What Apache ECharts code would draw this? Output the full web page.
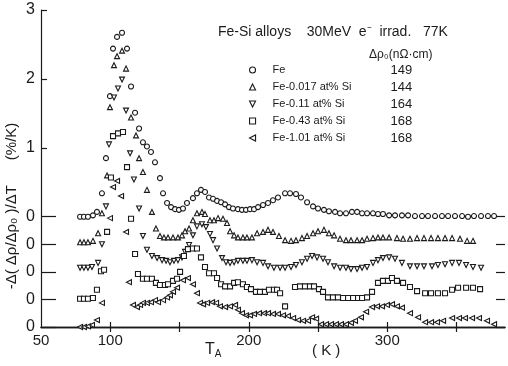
<!DOCTYPE html>
<html>
<head>
<meta charset="utf-8">
<script src="https://cdn.jsdelivr.net/npm/echarts@6/dist/echarts.min.js"></script>
<style>
  html, body { margin: 0; padding: 0; background: #fff; }
  #chart { width: 508px; height: 366px; }
</style>
</head>
<body>
<div id="chart"></div>
<script>
// alloys and their Δρ0 (nΩ·cm)
const alloyNames = ["Fe", "Fe-0.017 at% Si", "Fe-0.11 at% Si", "Fe-0.43 at% Si", "Fe-1.01 at% Si"]
const deltaRho0 = [149, 144, 164, 168, 168]
// each curve is shifted up by this much (units of %/K)
const curveOffsets = [1.6, 1.2, 0.8, 0.4, 0]

// [T_A (K), -Δ(Δρ/Δρ0)/ΔT (%/K)]
const fe = [[78.2,0.00],[81.0,0.00],[83.9,0.00],[87.5,0.02],[90.4,0.07],[94.0,0.34],[96.9,0.85],[99.8,1.75],[102.0,2.44],[104.9,2.61],[108.5,2.67],[112.1,2.44],[115.0,1.89],[117.9,1.51],[120.8,1.28],[123.6,1.08],[126.5,1.02],[129.4,0.94],[132.3,0.79],[135.9,0.56],[138.1,0.34],[141.0,0.20],[143.9,0.14],[146.8,0.11],[149.6,0.10],[152.5,0.12],[155.4,0.20],[159.7,0.27],[162.6,0.34],[165.5,0.39],[168.4,0.36],[171.3,0.28],[174.2,0.26],[177.1,0.23],[180.0,0.21],[182.9,0.18],[185.7,0.14],[188.6,0.12],[192.2,0.11],[195.1,0.10],[198.0,0.10],[200.9,0.11],[203.8,0.11],[206.7,0.14],[210.3,0.17],[213.9,0.20],[217.5,0.24],[221.1,0.28],[226.2,0.34],[229.8,0.34],[234.1,0.33],[237.7,0.28],[242.1,0.21],[246.4,0.15],[250.0,0.12],[254.3,0.10],[257.9,0.08],[262.3,0.07],[265.9,0.05],[270.2,0.05],[274.5,0.07],[278.2,0.07],[281.8,0.05],[285.4,0.05],[289.7,0.05],[293.3,0.04],[296.9,0.04],[301.3,0.02],[305.6,0.02],[310.6,0.02],[315.0,0.02],[320.0,0.01],[325.1,0.01],[329.4,0.01],[334.5,0.01],[339.5,0.01],[343.9,0.01],[348.9,0.01],[354.0,0.01],[358.3,0.00],[362.6,0.01],[367.7,0.01],[372.7,0.01],[377.1,0.01]]

const si0017 = [[78.2,0.03],[81.0,0.03],[83.9,0.03],[87.5,0.05],[91.2,0.16],[94.0,0.45],[97.7,1.00],[99.8,1.99],[102.7,2.60],[104.9,2.73],[108.5,2.81],[111.4,2.55],[115.0,1.84],[118.6,1.58],[120.8,1.25],[123.6,1.05],[126.5,0.79],[130.1,0.47],[133.0,0.23],[135.9,0.12],[138.8,0.10],[141.7,0.10],[145.3,0.10],[148.9,0.10],[151.8,0.13],[154.0,0.19],[156.9,0.23],[159.7,0.35],[162.6,0.45],[166.2,0.47],[168.4,0.44],[172.0,0.35],[174.9,0.35],[177.8,0.38],[181.4,0.37],[184.3,0.31],[186.5,0.19],[189.4,0.13],[192.2,0.10],[195.8,0.10],[198.7,0.10],[202.3,0.10],[206.0,0.16],[210.3,0.18],[213.9,0.21],[217.5,0.18],[221.8,0.12],[226.2,0.06],[230.5,0.05],[234.1,0.06],[238.4,0.09],[242.1,0.12],[246.4,0.16],[250.0,0.19],[254.3,0.21],[257.9,0.16],[261.6,0.13],[265.9,0.08],[270.2,0.06],[273.8,0.06],[278.2,0.06],[281.8,0.06],[285.4,0.08],[289.7,0.09],[293.3,0.10],[296.9,0.10],[301.3,0.10],[307.0,0.09],[311.4,0.08],[316.4,0.08],[321.5,0.09],[326.5,0.09],[331.6,0.09],[336.6,0.09],[341.7,0.09],[346.8,0.09],[352.5,0.08],[357.6,0.05],[361.9,0.05]]

const si011 = [[78.2,0.06],[81.0,0.06],[83.9,0.06],[86.8,0.07],[91.2,0.13],[94.0,0.40],[96.9,0.95],[99.1,1.85],[102.7,2.53],[105.6,2.66],[108.5,2.79],[111.4,2.34],[114.3,1.72],[117.1,1.34],[120.8,0.92],[123.6,0.52],[126.5,0.32],[130.1,0.23],[133.8,0.20],[137.4,0.17],[140.3,0.16],[143.1,0.14],[146.0,0.16],[148.9,0.17],[151.8,0.21],[154.0,0.29],[156.9,0.39],[159.7,0.53],[162.6,0.66],[166.2,0.69],[169.1,0.65],[172.0,0.55],[174.2,0.46],[177.1,0.34],[180.7,0.20],[183.6,0.14],[186.5,0.13],[189.4,0.14],[192.2,0.16],[195.8,0.16],[198.7,0.16],[202.3,0.17],[206.0,0.14],[210.3,0.13],[213.9,0.08],[218.2,0.06],[222.6,0.06],[226.2,0.06],[230.5,0.07],[234.1,0.10],[238.4,0.14],[242.1,0.19],[245.7,0.23],[249.3,0.21],[253.6,0.19],[257.2,0.14],[261.6,0.08],[265.9,0.06],[270.2,0.06],[273.8,0.04],[278.2,0.04],[281.8,0.06],[285.4,0.07],[289.7,0.13],[293.3,0.17],[296.9,0.20],[301.3,0.21],[305.6,0.19],[310.6,0.13],[316.4,0.08],[321.5,0.08],[326.5,0.08],[332.3,0.08],[336.6,0.10],[341.7,0.11],[346.8,0.13],[351.8,0.13],[356.9,0.10],[361.9,0.07],[367.7,0.06]]

const si043 = [[78.2,0.01],[81.0,0.01],[83.9,0.01],[87.5,0.02],[90.4,0.14],[93.3,0.41],[95.5,0.43],[97.7,0.98],[100.5,1.77],[102.0,2.37],[105.6,2.41],[109.2,2.43],[112.1,1.92],[115.0,1.17],[117.9,0.66],[120.0,0.37],[123.6,0.30],[126.5,0.30],[130.1,0.30],[133.0,0.24],[135.9,0.21],[139.5,0.21],[141.7,0.22],[145.3,0.27],[148.2,0.30],[150.4,0.40],[153.2,0.63],[156.1,0.73],[159.7,0.74],[162.6,0.74],[165.5,0.61],[168.4,0.47],[171.3,0.38],[174.9,0.38],[177.1,0.31],[180.0,0.22],[182.9,0.19],[186.5,0.19],[189.4,0.24],[192.2,0.25],[195.8,0.22],[198.7,0.18],[201.6,0.15],[205.2,0.11],[208.1,0.11],[211.7,0.11],[214.6,0.14],[218.2,0.14],[220.4,0.14],[222.6,0.09],[226.2,-0.10],[233.4,0.18],[237.0,0.19],[240.6,0.19],[244.2,0.19],[247.1,0.19],[250.7,0.15],[253.6,0.11],[257.2,0.03],[260.8,0.03],[264.4,0.03],[268.1,0.02],[271.7,0.02],[275.3,0.02],[278.9,0.02],[281.8,0.02],[285.4,0.03],[289.0,0.11],[293.3,0.24],[296.9,0.27],[300.5,0.27],[303.4,0.31],[307.0,0.27],[311.4,0.24],[316.4,0.18],[321.5,0.12],[327.3,0.09],[331.6,0.09],[336.6,0.09],[341.7,0.09],[346.8,0.14],[351.1,0.17],[356.9,0.17],[361.9,0.17],[367.0,0.15]]

const si101 = [[78.2,0.00],[81.0,0.00],[83.9,0.01],[86.8,0.03],[90.4,0.10],[94.0,0.35],[99.8,1.58],[102.0,2.03],[104.9,2.12],[107.8,1.90],[111.4,1.38],[113.5,0.65],[116.4,0.32],[119.3,0.29],[121.5,0.32],[123.6,0.35],[126.5,0.35],[129.4,0.36],[132.3,0.39],[134.5,0.36],[138.1,0.39],[141.0,0.43],[143.1,0.46],[145.3,0.51],[148.2,0.57],[152.5,0.68],[156.1,0.71],[159.7,0.62],[162.6,0.49],[164.8,0.35],[167.0,0.33],[169.9,0.35],[173.5,0.36],[176.4,0.35],[179.2,0.30],[182.9,0.29],[186.5,0.30],[190.1,0.32],[192.2,0.25],[195.1,0.20],[198.0,0.17],[200.9,0.17],[203.8,0.19],[207.4,0.20],[211.0,0.20],[213.9,0.20],[217.5,0.19],[221.1,0.19],[224.7,0.17],[228.3,0.16],[232.0,0.13],[235.6,0.10],[239.2,0.09],[242.8,0.09],[245.7,0.14],[248.6,0.12],[252.2,0.04],[255.8,0.04],[259.4,0.04],[263.0,0.04],[266.6,0.04],[270.2,0.04],[273.8,0.06],[276.7,0.09],[281.0,0.14],[284.7,0.22],[289.0,0.29],[292.6,0.30],[296.2,0.30],[299.8,0.32],[303.4,0.33],[307.0,0.30],[310.6,0.28],[316.4,0.20],[322.2,0.14],[327.3,0.07],[331.6,0.07],[335.9,0.07],[340.3,0.09],[346.8,0.13],[351.8,0.13],[356.1,0.13],[361.2,0.13],[366.2,0.13],[372.0,0.09],[377.1,0.04]]

const curves = [fe, si0017, si011, si043, si101]

// y tick labels: each curve has its own zero, the top one carries 1..3
const yLabelValues = [0, 0.4, 0.8, 1.2, 1.6, 2.6, 3.6, 4.6]
const yLabelTexts = ["0", "0", "0", "0", "0", "1", "2", "3"]
const zeroLevels = [0, 0.4, 0.8, 1.2, 1.6]
const unitLevels = [2.6, 3.6, 4.6]
const xLabelValues = [50, 100, 200, 300]
const xTickValues = [100, 150, 200, 250, 300, 350]

const ink = "#1b1b1b"
const font = "Liberation Sans"
// series marker + matching legend icon (legend does not pick up the rotation)
const markers = [
  { symbol: "circle", rotate: 0, icon: "circle" },
  { symbol: "triangle", rotate: 0, icon: "triangle" },
  { symbol: "triangle", rotate: 180, icon: "path://M0,0L10,0L5,10Z" },
  { symbol: "rect", rotate: 0, icon: "rect" },
  { symbol: "triangle", rotate: 90, icon: "path://M10,0L10,10L0,5Z" },
]

const chart = echarts.init(document.getElementById("chart"), null, { renderer: "canvas" })

const yLabel = (v) => {
  const i = yLabelValues.findIndex((t) => Math.abs(t - v) < 1e-6)
  return i < 0 ? "" : yLabelTexts[i]
}

const baseY = {
  type: "value",
  min: 0,
  max: 4.6,
  interval: 0.2,
  splitLine: { show: false },
}

const option = {
  animation: false,
  backgroundColor: "#fff",
  grid: { left: 41, right: 3, top: 10, bottom: 39 },
  xAxis: [
    {
      type: "value",
      position: "bottom",
      min: 50,
      max: 385,
      interval: 50,
      splitLine: { show: false },
      axisLine: { lineStyle: { color: ink, width: 1.3 } },
      axisTick: { inside: true, length: 5, customValues: xTickValues, lineStyle: { color: ink, width: 1.2 } },
      axisLabel: { customValues: xLabelValues, color: ink, fontFamily: font, fontSize: 15, margin: 6 },
    },
    {
      type: "value",
      position: "top",
      min: 50,
      max: 385,
      interval: 50,
      splitLine: { show: false },
      axisLine: { lineStyle: { color: ink, width: 1.3 } },
      axisTick: { inside: true, length: 5, customValues: xTickValues, lineStyle: { color: ink, width: 1.2 } },
      axisLabel: { show: false },
    },
  ],
  yAxis: [
    {
      ...baseY,
      position: "left",
      axisLine: { show: true, lineStyle: { color: ink, width: 1.2 } },
      axisTick: { inside: true, length: 15, customValues: zeroLevels, lineStyle: { color: ink, width: 1.2 } },
      axisLabel: { customValues: yLabelValues, formatter: yLabel, color: ink, fontFamily: font, fontSize: 16, margin: 6 },
    },
    {
      ...baseY,
      position: "left",
      axisLine: { show: false },
      axisTick: { inside: true, length: 6, customValues: unitLevels, lineStyle: { color: ink, width: 1.2 } },
      axisLabel: { show: false },
    },
    {
      ...baseY,
      position: "right",
      axisLine: { show: false },
      axisTick: { inside: true, length: 9, customValues: zeroLevels, lineStyle: { color: ink, width: 1.2 } },
      axisLabel: { show: false },
    },
  ],
  legend: {
    data: alloyNames.map((name, i) => ({ name, icon: markers[i].icon })),
    orient: "vertical",
    left: 244,
    top: 58,
    itemWidth: 6,
    itemHeight: 6,
    itemGap: 3,
    selectedMode: false,
    itemStyle: { color: "#fff", borderColor: ink, borderWidth: 1.1 },
    textStyle: {
      color: ink,
      fontFamily: font,
      fontSize: 11,
      lineHeight: 14,
      rich: {
        n: { width: 118, padding: [0, 0, 0, 12], fontFamily: font, fontSize: 11, color: ink },
        v: { fontFamily: font, fontSize: 13, color: ink },
      },
    },
    formatter: (name) => `{n|${name}}{v|${deltaRho0[alloyNames.indexOf(name)]}}`,
  },
  graphic: [
    {
      type: "text",
      left: 218,
      top: 25,
      style: { text: "Fe-Si alloys    30MeV  e\u207B  irrad.   77K", fill: ink, font: `14px "${font}"` },
    },
    {
      type: "text",
      left: 369,
      top: 49,
      style: { text: "\u0394\u03C1\u2080(n\u03A9\u00B7cm)", fill: ink, font: `12px "${font}"` },
    },
    {
      type: "text",
      x: 12,
      y: 206,
      rotation: Math.PI / 2,
      style: {
        text: "-\u0394( \u0394\u03C1/\u0394\u03C1\u2080 )/\u0394T      (%/K)",
        fill: ink,
        font: `15px "${font}"`,
        align: "center",
        verticalAlign: "middle",
      },
    },
    {
      type: "text",
      x: 205,
      y: 341,
      style: {
        text: "{t|T}{s|A}",
        rich: {
          t: { fontFamily: font, fontSize: 16, fill: ink },
          s: { fontFamily: font, fontSize: 10, fill: ink, padding: [8, 0, 0, 0] },
        },
      },
    },
    {
      type: "text",
      x: 312,
      y: 343,
      style: { text: "( K )", fill: ink, font: `15px "${font}"` },
    },
  ],
  series: curves.map((pts, i) => ({
    name: alloyNames[i],
    type: "scatter",
    xAxisIndex: 0,
    yAxisIndex: 0,
    symbol: markers[i].symbol,
    symbolRotate: markers[i].rotate,
    symbolSize: 5,
    itemStyle: { color: "#fff", borderColor: ink, borderWidth: 1.1, opacity: 1 },
    emphasis: { disabled: true },
    data: pts.map(([t, v]) => [t, +(v + curveOffsets[i]).toFixed(3)]),
  })),
}

chart.setOption(option)
</script>
</body>
</html>
